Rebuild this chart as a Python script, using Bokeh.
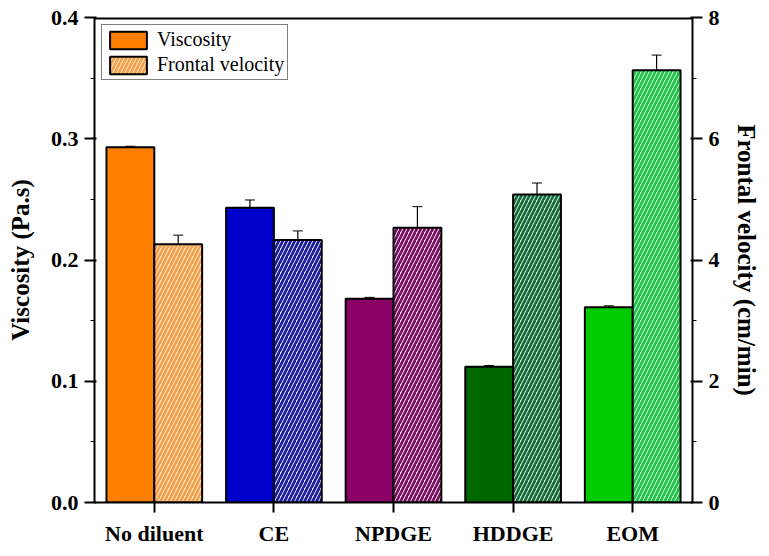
from bokeh.plotting import figure
from bokeh.models import (Range1d, LinearAxis, FixedTicker, ColumnDataSource, Whisker,
                          Legend, LegendItem, PrintfTickFormatter)
from bokeh.embed import file_html
from bokeh.resources import INLINE

categories = ["No diluent", "CE", "NPDGE", "HDDGE", "EOM"]
viscosity = [0.293, 0.243, 0.168, 0.112, 0.161]
viscosity_err = [0.0008, 0.0065, 0.0012, 0.0010, 0.0012]
velocity = [4.26, 4.33, 4.53, 5.08, 7.13]
velocity_err = [0.15, 0.15, 0.35, 0.19, 0.25]

solid_colors = ["#FF8000", "#0000CC", "#8B0066", "#006600", "#00CC00"]
hatch_colors = ["#F2A24E", "#1C1C9A", "#74105E", "#16693A", "#22C24A"]
hatch_bg = ["#FFE6C2", "#E4E4FF", "#F8DDF2", "#D6F0DA", "#CDF7D2"]

FONT = "Liberation Serif"
xs = list(range(len(categories)))
bw = 0.4

xr = Range1d(-0.5, 4.5)
yr = Range1d(0, 0.4)
p = figure(frame_width=598, frame_height=485, output_backend="svg", toolbar_location=None,
           x_range=xr, y_range=yr,
           min_border_left=94, min_border_top=17, min_border_right=64, min_border_bottom=42)
p.extra_y_ranges = {"fv": Range1d(0, 8)}
p.xgrid.visible = False
p.ygrid.visible = False
p.outline_line_color = None

# top frame edge (half of the line is clipped to the frame -> 2px)
p.segment(x0=[xr.start], x1=[xr.end], y0=[yr.end], y1=[yr.end],
          line_color="black", line_width=4)

src1 = ColumnDataSource(dict(
    x=[x - bw / 2 for x in xs], top=viscosity,
    lo=[v - e for v, e in zip(viscosity, viscosity_err)],
    hi=[v + e for v, e in zip(viscosity, viscosity_err)],
    color=solid_colors))
src2 = ColumnDataSource(dict(
    x=[x + bw / 2 for x in xs], top=velocity,
    lo=[v - e for v, e in zip(velocity, velocity_err)],
    hi=[v + e for v, e in zip(velocity, velocity_err)],
    hc=hatch_colors, bg=hatch_bg))

r1 = p.vbar(x="x", top="top", width=bw, bottom=0, source=src1, fill_color="color",
            line_color="black", line_width=2)
r2 = p.vbar(x="x", top="top", width=bw, bottom=0, source=src2, y_range_name="fv",
            fill_color="bg", hatch_pattern="/", hatch_color="hc", hatch_scale=8,
            hatch_weight=2.7, line_color="black", line_width=2)

w1 = Whisker(base="x", lower="lo", upper="hi", source=src1, line_color="black", line_width=1.2)
w1.upper_head.size = 10
w1.lower_head.size = 10
p.add_layout(w1)
w2 = Whisker(base="x", lower="lo", upper="hi", source=src2, y_range_name="fv",
             line_color="black", line_width=1.2)
w2.upper_head.size = 10
w2.lower_head.size = 10
p.add_layout(w2)

def style_axis(ax):
    ax.axis_line_color = "black"
    ax.axis_line_width = 2
    ax.major_tick_line_color = "black"
    ax.major_tick_line_width = 2
    ax.major_tick_out = 10
    ax.major_label_text_font = FONT
    ax.major_label_text_font_style = "bold"
    ax.major_label_text_font_size = "22px"
    ax.major_label_text_color = "black"
    ax.axis_label_text_font = FONT
    ax.axis_label_text_font_style = "bold"
    ax.axis_label_text_font_size = "25px"
    ax.axis_label_text_color = "black"

xa = p.xaxis[0]
xa.ticker = FixedTicker(ticks=xs, minor_ticks=xs)
xa.major_label_overrides = {i: c for i, c in enumerate(categories)}
style_axis(xa)
xa.major_label_standoff = 8

ya = p.yaxis[0]
ya.ticker = FixedTicker(ticks=[0, 0.1, 0.2, 0.3, 0.4],
                        minor_ticks=[0.05, 0.15, 0.25, 0.35])
ya.formatter = PrintfTickFormatter(format="%.1f")
ya.axis_label = "Viscosity (Pa.s)"
style_axis(ya)
ya.major_label_standoff = 6
ya.axis_label_standoff = 14

ra = LinearAxis(y_range_name="fv", axis_label="Frontal velocity (cm/min)")
ra.ticker = FixedTicker(ticks=[0, 2, 4, 6, 8], minor_ticks=[1, 3, 5, 7])
style_axis(ra)
ra.major_label_standoff = 6
ra.axis_label_standoff = 10
p.add_layout(ra, "right")

legend = Legend(items=[LegendItem(label="Viscosity", renderers=[r1], index=0),
                       LegendItem(label="Frontal velocity", renderers=[r2], index=0)],
                location="top_left")
legend.label_text_font = FONT
legend.label_text_font_size = "20px"
legend.label_text_color = "black"
legend.border_line_color = "black"
legend.border_line_width = 1.5
legend.margin = 7
legend.padding = 3
legend.spacing = 2
legend.glyph_width = 46
legend.glyph_height = 22
legend.label_standoff = 6
legend.label_height = 22
p.add_layout(legend)

open("out.html", "w").write(file_html(p, INLINE))
